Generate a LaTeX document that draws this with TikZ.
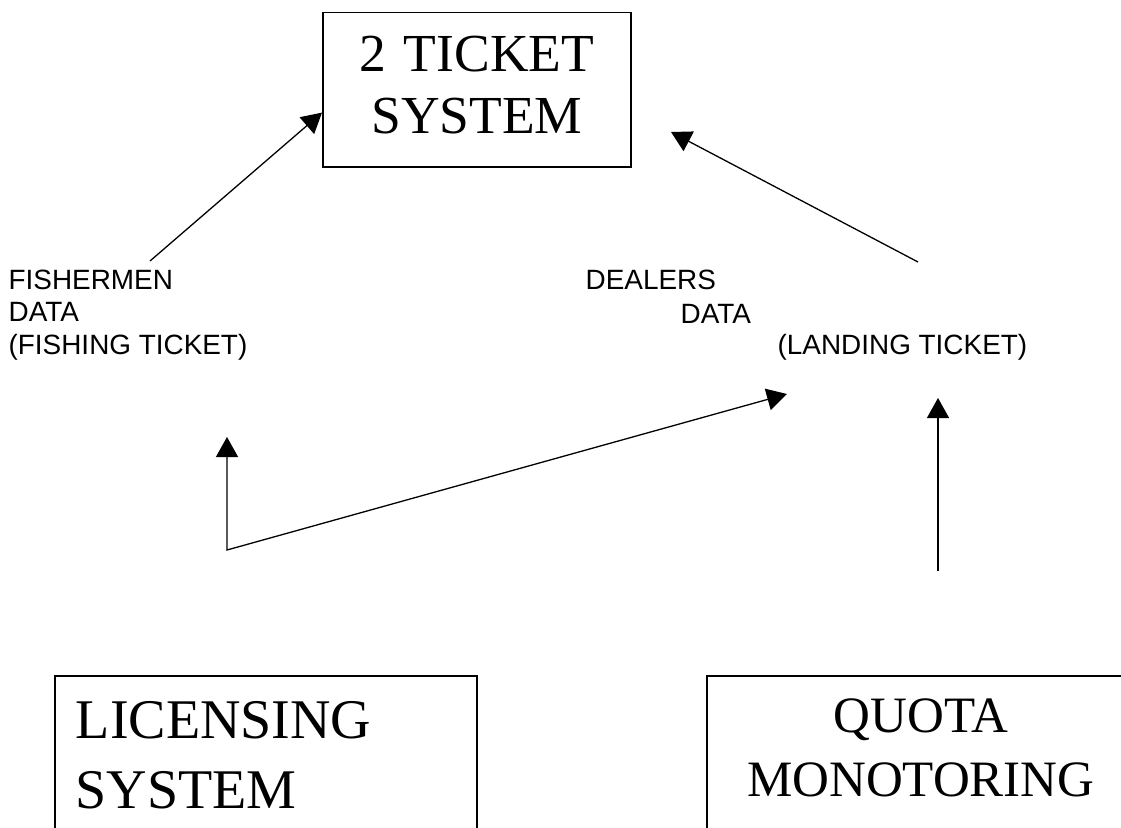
\documentclass[tikz,border=0pt]{standalone}
\usepackage{fontspec}
\setmainfont{Liberation Serif}
\setsansfont{Liberation Sans}
\usetikzlibrary{arrows.meta}

\begin{document}
\begin{tikzpicture}[x=1pt, y=-1pt, line width=1.3pt, black,
    >={Triangle[length=20pt,width=22pt]},
    sysbox/.style={draw, line width=1.6pt, anchor=north west, inner xsep=21pt, align=center},
    datalbl/.style={inner sep=0pt, font=\sffamily\fontsize{27.9}{32.5}\selectfont}]

    \useasboundingbox (0,0) rectangle (1121,827);
    \clip (0,0) rectangle (1121,827);

    %boxes
    \node[sysbox, text width=266pt, inner ysep=24pt, text depth=71pt,
          font=\fontsize{53.5}{62}\selectfont] (tick) at (322,11.6) {2 TICKET\\SYSTEM};
    \node[sysbox, align=left, text width=380pt, inner ysep=26pt, text depth=130pt,
          font=\fontsize{56}{70}\selectfont] (lic) at (54,675) {LICENSING\\SYSTEM};
    \node[sysbox, text width=386pt, inner ysep=23pt, text depth=124pt,
          font=\fontsize{51}{64}\selectfont] (quota) at (706,675) {QUOTA\\MONOTORING};

    %labels
    \node[datalbl, anchor=north west, align=left] (fish) at (8,269) {FISHERMEN\\DATA\\(FISHING TICKET)};
    \node[datalbl, anchor=base west] (deal) at (585,289) {DEALERS};
    \node[datalbl, anchor=base west] (dealData) at (680,323) {DATA};
    \node[datalbl, anchor=base west] (dealTicket) at (777,354) {(LANDING TICKET)};

    %coordinates
    \coordinate (fishTail) at (150,261); % above fishermen
    \coordinate (dealTail) at (918,262); % above landing ticket
    \coordinate (dealHead) at (671,132);
    \coordinate (licHead) at (227,437);
    \coordinate (licCorner) at (227,550); % licensing output
    \coordinate (landHead) at (787,394);
    \coordinate (quotaTail) at (938,571);
    \coordinate (quotaHead) at (938,398);

    %arrows
    \draw[->] (fishTail) -- ([yshift=-23pt]tick.west);
    \draw[->] (dealTail) -- (dealHead);
    \draw[<->] (licHead) -- (licCorner) -- (landHead);
    \draw[->] (quotaTail) -- (quotaHead);

\end{tikzpicture}
\end{document}
